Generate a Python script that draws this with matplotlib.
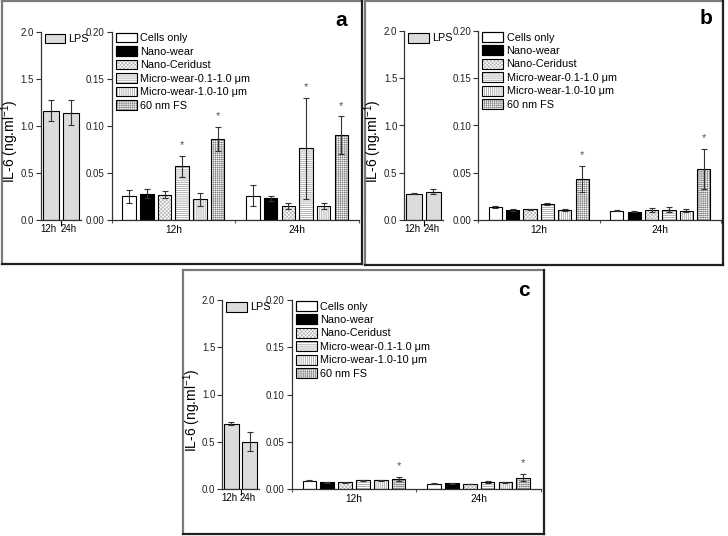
import matplotlib
matplotlib.use("Agg")
import matplotlib.pyplot as plt
from matplotlib.patches import Patch, Rectangle
from matplotlib.lines import Line2D
import numpy as np

plt.rcParams['font.family'] = ['Liberation Sans', 'DejaVu Sans']
plt.rcParams['hatch.linewidth'] = 0.45

# ---------------- data ----------------
groups = ['12h', '24h']
series = ['Cells only', 'Nano-wear', 'Nano-Ceridust',
          'Micro-wear-0.1-1.0 μm', 'Micro-wear-1.0-10 μm', '60 nm FS']

a_12h = [0.025, 0.028, 0.027, 0.057, 0.022, 0.086]
a_12h_err = [0.007, 0.005, 0.004, 0.011, 0.007, 0.013]
a_24h = [0.026, 0.023, 0.015, 0.076, 0.015, 0.090]
a_24h_err = [0.011, 0.003, 0.003, 0.054, 0.003, 0.020]
a_lps = [1.16, 1.14]
a_lps_err = [0.11, 0.13]
a_star_12h = [3, 5]
a_star_24h = [3, 5]

b_12h = [0.014, 0.0106, 0.0113, 0.0169, 0.011, 0.0433]
b_12h_err = [0.0008, 0.0008, 0.0008, 0.0015, 0.0010, 0.014]
b_24h = [0.0099, 0.0088, 0.0109, 0.011, 0.010, 0.054]
b_24h_err = [0.0008, 0.0005, 0.0020, 0.0025, 0.0015, 0.021]
b_lps = [0.28, 0.30]
b_lps_err = [0.01, 0.025]
b_star_12h = [5]
b_star_24h = [5]

c_12h = [0.0091, 0.0074, 0.0074, 0.0095, 0.0095, 0.0109]
c_12h_err = [0.0005, 0.0005, 0.0008, 0.0007, 0.0005, 0.0025]
c_24h = [0.0059, 0.0063, 0.0056, 0.0077, 0.0074, 0.0123]
c_24h_err = [0.0005, 0.0004, 0.0004, 0.0006, 0.0004, 0.004]
c_lps = [0.69, 0.50]
c_lps_err = [0.015, 0.10]
c_star_12h = [5]
c_star_24h = [5]

# ---------------- styles ----------------
faces = ['white', 'black', 'white', 'white', 'white', 'white']
hatches = [None, None, 'xxxxxxxxx', '--------', '||||||||', '++++++++']
hatch_cols = [None, None, '#b0b0b0', '#8a8a8a', '#8a8a8a', '#8a8a8a']
lps_face = '#dcdcdc'

W, H = 728, 536
fig = plt.figure(figsize=(W / 100, H / 100), dpi=100)


def ax_px(x0, y0, x1, y1):
    return fig.add_axes([x0 / W, 1 - y1 / H, (x1 - x0) / W, (y1 - y0) / H])


def frame(x0, y0, x1, y1):
    fx = lambda v: v / W
    fy = lambda v: 1 - v / H
    fig.add_artist(Line2D([fx(x0), fx(x1)], [fy(y0), fy(y0)], color='#7a7a7a', lw=1.6))
    fig.add_artist(Line2D([fx(x0), fx(x0)], [fy(y0), fy(y1)], color='#7a7a7a', lw=1.6))
    fig.add_artist(Line2D([fx(x1), fx(x1)], [fy(y0), fy(y1)], color='#202020', lw=1.6))
    fig.add_artist(Line2D([fx(x0), fx(x1)], [fy(y1), fy(y1)], color='#202020', lw=1.6))


def style_axis(ax):
    for s in ['top', 'right']:
        ax.spines[s].set_visible(False)
    for s in ['left', 'bottom']:
        ax.spines[s].set_color('#333333')
        ax.spines[s].set_linewidth(0.9)
    ax.tick_params(axis='y', direction='out', length=3.5, width=0.8,
                   labelsize=7, pad=1.5, colors='#333333', labelcolor='#222222')


def lps_panel(ax, vals, errs):
    x = np.arange(1, len(groups) + 1)
    ax.bar(x, vals, width=0.8, color=lps_face, edgecolor='black', linewidth=0.8, zorder=2)
    ax.errorbar(x, vals, yerr=errs, fmt='none', ecolor='#333333', elinewidth=0.8,
                capsize=2.5, capthick=0.8, zorder=3)
    ax.set_xlim(0.5, 2.5)
    ax.set_ylim(0, 2.0)
    ax.set_yticks([0, 0.5, 1.0, 1.5, 2.0])
    ax.set_yticklabels(['0.0', '0.5', '1.0', '1.5', '2.0'])
    ax.set_xticks([1.5])
    ax.set_xticklabels([''])
    ax.tick_params(axis='x', which='major', direction='out', length=4, width=0.8)
    ax.set_xticks(x - 0.1, minor=True)
    ax.set_xticklabels(groups, minor=True, fontsize=7)
    ax.tick_params(axis='x', which='minor', length=0, pad=3)
    style_axis(ax)
    h = [Patch(facecolor=lps_face, edgecolor='black', linewidth=0.8)]
    ax.legend(h, ['LPS'], loc='upper left', bbox_to_anchor=(0.1, 0.99), frameon=False,
              fontsize=7.8, handlelength=1.9, handleheight=1.0, handletextpad=0.3,
              borderpad=0, borderaxespad=0)


def main_panel(ax, v12, e12, v24, e24, s12, s24):
    step = 0.143
    width = 0.109
    centers = np.arange(1, len(groups) + 1)
    for gi, (vals, errs, stars) in enumerate([(v12, e12, s12), (v24, e24, s24)]):
        for i in range(len(series)):
            xi = centers[gi] + (i - 2.5) * step
            if hatches[i]:
                ax.bar(xi, vals[i], width=width, color=faces[i], edgecolor=hatch_cols[i],
                       hatch=hatches[i], linewidth=0, zorder=2)
            else:
                ax.bar(xi, vals[i], width=width, color=faces[i], linewidth=0, zorder=2)
            ax.bar(xi, vals[i], width=width, fill=False, edgecolor='black',
                   linewidth=0.8, zorder=3)
            ax.errorbar(xi, vals[i], yerr=errs[i], fmt='none', ecolor='#333333',
                        elinewidth=0.8, capsize=2.5, capthick=0.8, zorder=4)
            if i in stars:
                ax.text(xi, vals[i] + errs[i] + 0.0115, '*', ha='center', va='center',
                        fontsize=8, color='#555555')
    ax.set_xlim(0.5, 2.5)
    ax.set_ylim(0, 0.20)
    ax.set_yticks([0, 0.05, 0.10, 0.15, 0.20])
    ax.set_yticklabels(['0.00', '0.05', '0.10', '0.15', '0.20'])
    ax.set_xticks([0.5, 1.5, 2.5])
    ax.set_xticklabels(['', '', ''])
    ax.tick_params(axis='x', which='major', direction='out', length=2, width=0.8,
                   colors='#555555')
    ax.set_xticks(centers, minor=True)
    ax.set_xticklabels(groups, minor=True, fontsize=7.3)
    ax.tick_params(axis='x', which='minor', length=0, pad=3.5)
    style_axis(ax)
    handles = []
    for i in range(len(series)):
        if hatches[i]:
            handles.append(Patch(facecolor=faces[i], edgecolor=hatch_cols[i],
                                 hatch=hatches[i], linewidth=0))
        else:
            handles.append(Patch(facecolor=faces[i], edgecolor='black', linewidth=0.8))
    leg = ax.legend(handles, series, loc='upper left', bbox_to_anchor=(0.017, 0.995),
                    frameon=False, fontsize=7.8, handlelength=1.95, handleheight=1.0,
                    handletextpad=0.3, labelspacing=0.27, borderpad=0, borderaxespad=0)
    return leg


panels = [
    dict(frame=(1.5, 1.0, 361.7, 264.0), lps=(40.7, 31.7, 80.5, 220.0),
         main=(111.5, 31.7, 359.0, 220.0),
         data=(a_12h, a_12h_err, a_24h, a_24h_err, a_star_12h, a_star_24h),
         lpsd=(a_lps, a_lps_err), lab='a', labpos=(341, 20), ylab=(10, 141)),
    dict(frame=(365.0, 1.0, 722.7, 265.0), lps=(404.3, 31.0, 443.0, 220.0),
         main=(478.0, 31.0, 721.0, 220.0),
         data=(b_12h, b_12h_err, b_24h, b_24h_err, b_star_12h, b_star_24h),
         lpsd=(b_lps, b_lps_err), lab='b', labpos=(706.5, 18.5), ylab=(373, 141)),
    dict(frame=(182.7, 269.5, 544.0, 534.0), lps=(222.3, 300.0, 259.0, 489.0),
         main=(291.7, 300.0, 541.0, 489.3),
         data=(c_12h, c_12h_err, c_24h, c_24h_err, c_star_12h, c_star_24h),
         lpsd=(c_lps, c_lps_err), lab='c', labpos=(524, 290), ylab=(192, 410)),
]

for p in panels:
    frame(*p['frame'])
    axl = ax_px(*p['lps'])
    lps_panel(axl, *p['lpsd'])
    axm = ax_px(*p['main'])
    leg = main_panel(axm, *p['data'])
    # black outlines on the hatched legend handles
    fig.canvas.draw()
    inv = fig.transFigure.inverted()
    for patch in leg.get_patches():
        bb = patch.get_window_extent()
        (x0, y0), (x1, y1) = inv.transform([[bb.x0, bb.y0], [bb.x1, bb.y1]])
        fig.add_artist(Rectangle((x0, y0), x1 - x0, y1 - y0, fill=False,
                                 edgecolor='black', linewidth=0.8, zorder=5))
    lx, ly = p['labpos']
    fig.text(lx / W, 1 - ly / H, p['lab'], fontsize=15, fontweight='bold',
             ha='center', va='center')
    yx, yy = p['ylab']
    fig.text(yx / W, 1 - yy / H, 'IL-6 (ng.ml$^{\\mathregular{-1}}$)', rotation=90,
             fontsize=10, ha='center', va='center')

fig.savefig('out.png', dpi=100)
